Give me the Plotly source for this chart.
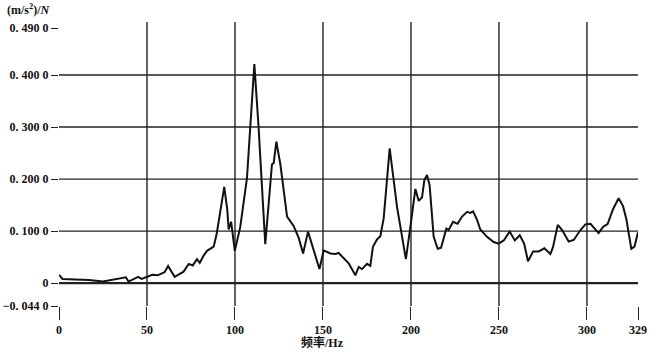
import plotly.graph_objects as go

# Frequency (Hz) and response ((m/s^2)/N)
freq = [0, 2, 9, 17, 25, 30, 36, 38, 39.5, 42.5, 45, 47, 50, 53, 56, 58, 60, 62,
        65.7, 70.8, 73.7, 76, 78.4, 80, 82.2, 84.1, 87.9, 89.6, 91.7, 93.9, 95.6,
        96.4, 97.8, 99.9, 103, 106.8, 111, 113.4, 117.2, 121, 122, 123.5, 125.8,
        129.6, 133.3, 136.2, 138.7, 141.5, 148, 150.4, 154.2, 157, 158.9, 161.7,
        164.6, 168.4, 170.3, 172.2, 175, 176.9, 178.4, 180.7, 182.6, 184.5, 187.9,
        192.1, 197.1, 199.7, 202.5, 204.4, 206.3, 207.6, 209.1, 210.6, 212.9,
        215.2, 217.1, 220.1, 221.4, 223.9, 226.5, 229, 231.9, 233.7, 235.3, 237.5,
        239.4, 243.2, 247, 249.8, 252.7, 256.1, 259, 261.8, 264.3, 266.5, 269.4,
        272.6, 275.8, 279.2, 280.7, 283.4, 285.9, 289.6, 292.5, 296.3, 299.1, 302,
        304.2, 306.6, 309.1, 311.8, 314.8, 318, 320.5, 322.4, 323.7, 325.2, 327, 329]
accel = [0.016, 0.008, 0.007, 0.006, 0.003, 0.006, 0.009, 0.011, 0.003, 0.008,
         0.012, 0.008, 0.012, 0.016, 0.015, 0.018, 0.021, 0.033, 0.012, 0.022,
         0.037, 0.034, 0.046, 0.039, 0.053, 0.062, 0.070, 0.095, 0.138, 0.185,
         0.142, 0.103, 0.118, 0.062, 0.108, 0.202, 0.421, 0.300, 0.075, 0.228,
         0.231, 0.272, 0.228, 0.128, 0.110, 0.087, 0.057, 0.099, 0.027, 0.063,
         0.057, 0.056, 0.058, 0.048, 0.038, 0.015, 0.031, 0.027, 0.037, 0.033,
         0.070, 0.084, 0.090, 0.125, 0.259, 0.146, 0.046, 0.109, 0.181, 0.158,
         0.165, 0.198, 0.208, 0.188, 0.089, 0.066, 0.068, 0.105, 0.102, 0.118,
         0.114, 0.128, 0.137, 0.135, 0.138, 0.122, 0.103, 0.089, 0.079, 0.076,
         0.082, 0.099, 0.082, 0.092, 0.076, 0.042, 0.061, 0.061, 0.067, 0.056,
         0.069, 0.112, 0.102, 0.080, 0.083, 0.102, 0.113, 0.114, 0.105, 0.096,
         0.108, 0.114, 0.142, 0.163, 0.148, 0.123, 0.096, 0.066, 0.070, 0.098]

x_ticks = [0, 50, 100, 150, 200, 250, 300, 329]
x_ticktext = ["0", "50", "100", "150", "200", "250", "300", "329"]
y_ticks = [-0.044, 0, 0.1, 0.2, 0.3, 0.4, 0.49]
y_ticktext = ["\u22120. 044 0", "0", "0. 100 0", "0. 200 0", "0. 300 0", "0. 400 0", "0. 490 0"]
grid_x = [50, 100, 150, 200, 250, 300]
grid_y = [0, 0.1, 0.2, 0.3, 0.4]

FONT = "Liberation Serif, Noto Sans CJK SC, serif"

fig = go.Figure()
fig.add_trace(go.Scatter(x=freq, y=accel, mode="lines",
                         line=dict(color="#111111", width=2), hoverinfo="skip"))

for gx in grid_x:
    fig.add_shape(type="line", xref="x", yref="paper", x0=gx, x1=gx, y0=0, y1=1,
                  line=dict(color="#222222", width=1.4), layer="below")
for gy in grid_y:
    fig.add_shape(type="line", xref="paper", yref="y", x0=0, x1=1, y0=gy, y1=gy,
                  line=dict(color="#222222", width=2.2 if gy == 0 else 1.4), layer="below")

fig.update_layout(
    width=650, height=352,
    margin=dict(l=59, r=12, t=22, b=46),
    paper_bgcolor="white", plot_bgcolor="white",
    showlegend=False,
    font=dict(family=FONT, size=12, color="#111111"),
    xaxis=dict(range=[0, 329], tickmode="array", tickvals=x_ticks,
               ticktext=["<b>%s</b>" % t for t in x_ticktext],
               showgrid=False, zeroline=False, showline=False, automargin=False,
               ticks="outside", ticklen=13, tickwidth=1.4, tickcolor="#222222",
               tickfont=dict(family=FONT, size=12, color="#111111")),
    yaxis=dict(range=[-0.044, 0.502], tickmode="array", tickvals=y_ticks,
               ticktext=["<b>%s</b>" % t for t in y_ticktext],
               showgrid=False, zeroline=False, showline=False, automargin=False,
               ticks="outside", ticklen=7, tickwidth=1.4, tickcolor="#222222",
               tickfont=dict(family=FONT, size=12, color="#111111")),
    annotations=[
        dict(text="<b>(m/s<sup>2</sup>)/<i>N</i></b>", xref="paper", yref="paper",
             x=-0.093, y=1.045, xanchor="left", yanchor="middle", showarrow=False,
             font=dict(family=FONT, size=12, color="#111111")),
        dict(text="<b>频率/Hz</b>", xref="x", yref="paper",
             x=150, y=-0.13, xanchor="center", yanchor="middle", showarrow=False,
             font=dict(family=FONT, size=12, color="#111111")),
    ],
)

fig.write_html("out.html")
